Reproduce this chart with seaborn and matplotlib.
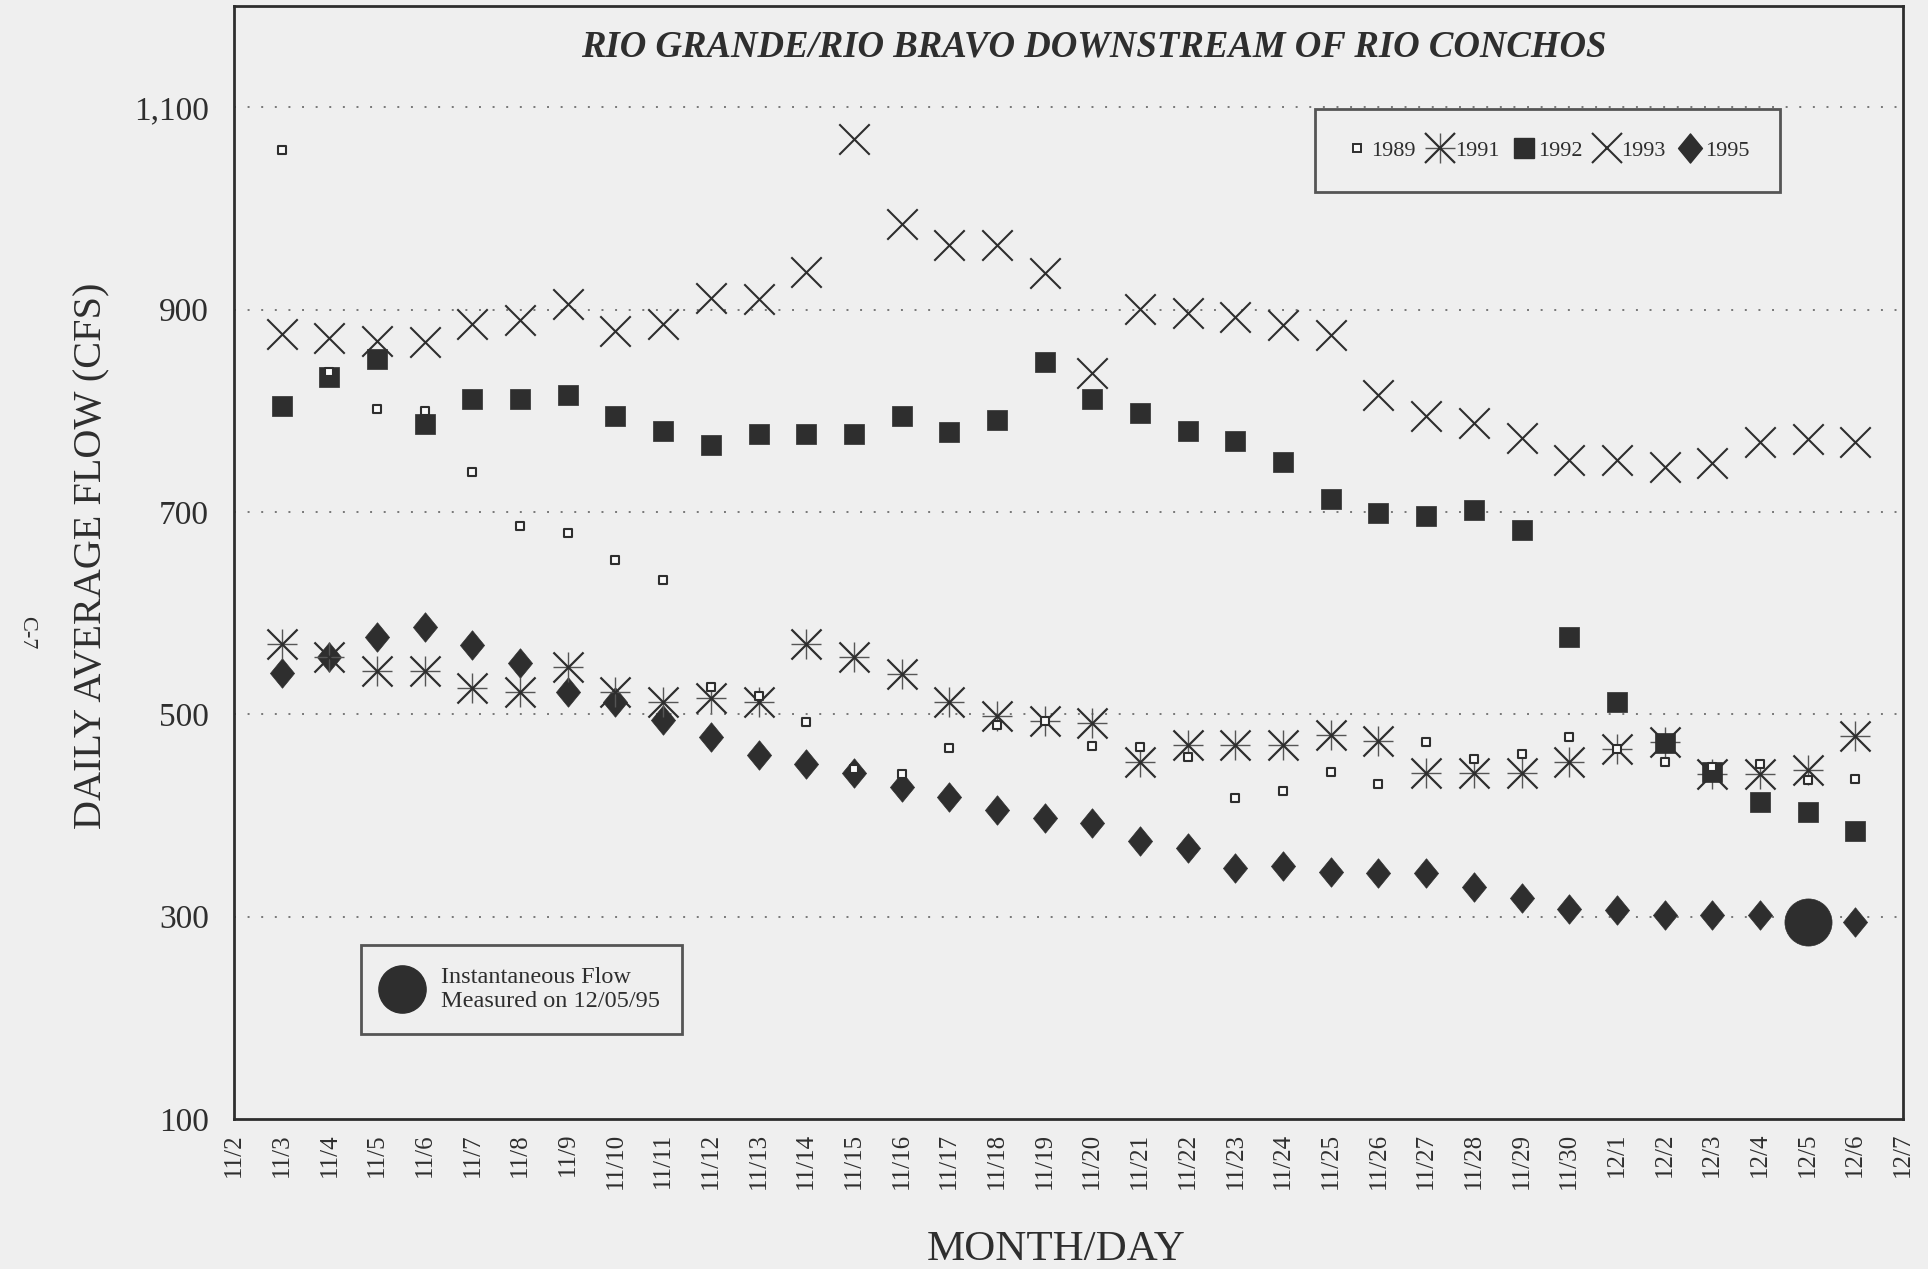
import numpy as np
import pandas as pd
import matplotlib
matplotlib.use("Agg")
import matplotlib.pyplot as plt
from matplotlib.lines import Line2D
from matplotlib.path import Path
from matplotlib.legend_handler import HandlerTuple
import seaborn as sns

# ---- data -------------------------------------------------------------
day_labels = ["11/2", "11/3", "11/4", "11/5", "11/6", "11/7", "11/8", "11/9",
              "11/10", "11/11", "11/12", "11/13", "11/14", "11/15", "11/16",
              "11/17", "11/18", "11/19", "11/20", "11/21", "11/22", "11/23",
              "11/24", "11/25", "11/26", "11/27", "11/28", "11/29", "11/30",
              "12/1", "12/2", "12/3", "12/4", "12/5", "12/6", "12/7"]
obs_days = day_labels[1:-1]          # 11/3 .. 12/6

flow_1989 = [1058, 838, 802, 800, 739, 686, 679, 652, 633, 527, 518, 492,
             446, 441, 467, 489, 493, 469, 468, 458, 417, 424, 443,
             431, 473, 456, 461, 478, 466, 453, 448, 451, 435, 436]
flow_1991 = [569, 557, 543, 543, 526, 522, 547, 522, 512, 516, 512, 569,
             557, 540, 512, 498, 493, 491, 453, 470, 470, 470, 480,
             474, 442, 442, 442, 453, 466, 473, 441, 441, 445, 479]
flow_1992 = [805, 833, 851, 787, 812, 812, 816, 795, 780, 766, 777, 777,
             777, 795, 779, 791, 848, 812, 798, 780, 770, 749, 713,
             699, 696, 702, 682, 576, 512, 472, 443, 413, 403, 385]
flow_1993 = [876, 872, 869, 868, 886, 890, 905, 879, 886, 911, 910, 937,
             1069, 985, 964, 964, 936, 837, 901, 897, 893, 885, 875,
             816, 795, 788, 773, 751, 751, 744, 748, 769, 772, 769]
flow_1995 = [541, 557, 576, 586, 568, 551, 522, 512, 494, 478, 460, 451,
             442, 428, 418, 405, 397, 393, 375, 368, 348, 350, 344,
             343, 343, 329, 318, 308, 307, 302, 302, 302, 300, 295]

inst_day = "12/5"
inst_flow = 295

y_ticks = [100, 300, 500, 700, 900, 1100]
y_tick_labels = ["100", "300", "500", "700", "900", "1,100"]

series = {"1989": flow_1989, "1991": flow_1991, "1992": flow_1992,
          "1993": flow_1993, "1995": flow_1995}

pos = {d: i for i, d in enumerate(day_labels)}
frames = []
for year, vals in series.items():
    frames.append(pd.DataFrame({"day": obs_days,
                                "x": [pos[d] for d in obs_days],
                                "flow": vals, "year": year}))
df = pd.concat(frames, ignore_index=True)

# ---- style ------------------------------------------------------------
sns.set_theme(style="white")
plt.rcParams["font.family"] = ["Liberation Serif", "DejaVu Serif"]

BG = "#efefef"
INK = "#2e2e2e"

fig = plt.figure(figsize=(19.28, 12.69), dpi=100, facecolor=BG)
ax = fig.add_axes([234 / 1928, 1 - 1119 / 1269, 1669 / 1928, 1113 / 1269])
ax.set_facecolor(BG)

# diamond a little narrower than tall
diamond = Path([(0, 1), (0.82, 0), (0, -1), (-0.82, 0), (0, 1)],
               [Path.MOVETO, Path.LINETO, Path.LINETO, Path.LINETO,
                Path.CLOSEPOLY])

def sub(year):
    return df[df["year"] == year]

# 1995 diamonds
sns.scatterplot(data=sub("1995"), x="x", y="flow", marker=diamond, s=450,
                color=INK, edgecolor=INK, linewidth=0.5, ax=ax, zorder=3)
# 1991 asterisks: diagonal cross plus a lighter upright cross
sns.scatterplot(data=sub("1991"), x="x", y="flow", marker="+", s=470,
                color="#555555", linewidth=1.0, ax=ax, zorder=3)
sns.scatterplot(data=sub("1991"), x="x", y="flow", marker="x", s=470,
                color=INK, linewidth=1.6, ax=ax, zorder=3)
# 1992 filled squares
sns.scatterplot(data=sub("1992"), x="x", y="flow", marker="s", s=210,
                color=INK, edgecolor=INK, linewidth=0.5, ax=ax, zorder=4)
# 1993 crosses
sns.scatterplot(data=sub("1993"), x="x", y="flow", marker="x", s=480,
                color=INK, linewidth=1.5, ax=ax, zorder=4)
# 1989 small open squares
sns.scatterplot(data=sub("1989"), x="x", y="flow", marker="s", s=32,
                color="#fafafa", edgecolor=INK, linewidth=1.5, ax=ax, zorder=5)
# instantaneous measurement
sns.scatterplot(x=[pos[inst_day]], y=[inst_flow], marker="o", s=1150,
                color=INK, edgecolor=INK, linewidth=0.5, ax=ax, zorder=6)

# ---- axes -------------------------------------------------------------
ax.set_xlim(0, len(day_labels) - 1)
ax.set_ylim(100, 1200)
ax.set_xticks(range(len(day_labels)))
ax.set_xticklabels(day_labels, rotation=90, fontsize=18, color=INK)
ax.set_yticks(y_ticks)
ax.set_yticklabels(y_tick_labels, fontsize=24, color=INK)
ax.tick_params(axis="both", length=0)
ax.tick_params(axis="y", pad=18)
ax.tick_params(axis="x", pad=10)
ax.set_xlabel("")
ax.set_ylabel("")
for s in ax.spines.values():
    s.set_visible(True)
    s.set_color(INK)
    s.set_linewidth(2)

for yv in y_ticks[1:]:
    ax.axhline(yv, color="#777777", linewidth=1.4,
               linestyle=(0, (1, 6)), zorder=1)

ax.text(0.515, 0.963, "RIO GRANDE/RIO BRAVO DOWNSTREAM OF RIO CONCHOS",
        transform=ax.transAxes, ha="center", va="center", fontsize=26.5,
        fontweight="bold", fontstyle="italic", color=INK)

fig.text(92 / 1928, 1 - 556 / 1269, "DAILY AVERAGE FLOW (CFS)", rotation=90,
         ha="center", va="center", fontsize=29, color=INK)
fig.text(0.548, 1 - 1250 / 1269, "MONTH/DAY", ha="center", va="center",
         fontsize=31, color=INK)
fig.text(27 / 1928, 1 - 633 / 1269, "C-7", rotation=-90, ha="center",
         va="center", fontsize=16, color=INK)

# ---- legends ----------------------------------------------------------
h1989 = Line2D([], [], ls="none", marker="s", ms=5.5, mfc="#fafafa",
               mec=INK, mew=1.4)
h1991a = Line2D([], [], ls="none", marker="+", ms=21, mec="#555555", mew=1.0)
h1991b = Line2D([], [], ls="none", marker="x", ms=21, mec=INK, mew=1.6)
h1992 = Line2D([], [], ls="none", marker="s", ms=14, mfc=INK, mec=INK)
h1993 = Line2D([], [], ls="none", marker="x", ms=21, mec=INK, mew=1.5)
h1995 = Line2D([], [], ls="none", marker=diamond, ms=21, mfc=INK, mec=INK)

leg = ax.legend([h1989, (h1991a, h1991b), h1992, h1993, h1995],
                list(series.keys()),
                handler_map={tuple: HandlerTuple(ndivide=1)},
                loc="center", bbox_to_anchor=(0.787, 0.870), ncol=5,
                fontsize=16, frameon=True, fancybox=False, borderpad=1.4,
                handlelength=1.0, handletextpad=0.15, columnspacing=0.6,
                borderaxespad=0)
leg.get_frame().set_edgecolor(INK)
leg.get_frame().set_linewidth(2)
leg.get_frame().set_facecolor(BG)
for t in leg.get_texts():
    t.set_color(INK)
ax.add_artist(leg)

hinst = Line2D([], [], ls="none", marker="o", ms=34, mfc=INK, mec=INK)
leg2 = ax.legend([hinst], ["Instantaneous Flow\nMeasured on 12/05/95"],
                 loc="center", bbox_to_anchor=(0.172, 0.116), fontsize=17.5,
                 frameon=True, fancybox=False, borderpad=0.9,
                 handlelength=1.6, handletextpad=0.8, borderaxespad=0)
leg2.get_frame().set_edgecolor(INK)
leg2.get_frame().set_linewidth(2)
leg2.get_frame().set_facecolor(BG)
for t in leg2.get_texts():
    t.set_color(INK)

fig.savefig("out.png", dpi=100, facecolor=BG)
